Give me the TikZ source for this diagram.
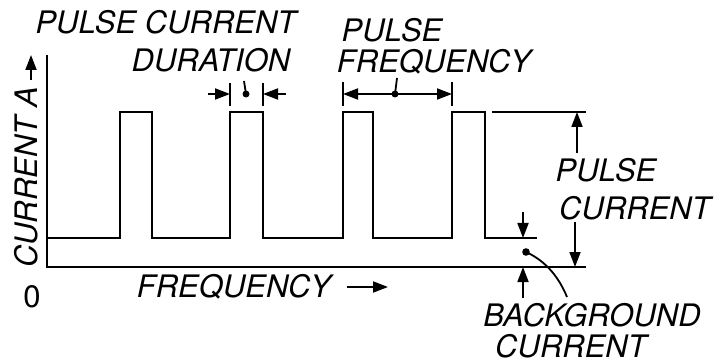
\documentclass[tikz,border=0pt]{standalone}
\usepackage{fontspec}
\setmainfont{TeX Gyre Heros}
\usetikzlibrary{arrows.meta}
\begin{document}
\begin{tikzpicture}[x=1pt,y=-1pt,
  wave/.style={line width=2.6pt, line join=miter},
  fine/.style={line width=1.8pt},
  tipA/.style={-{Triangle[length=15pt,width=11pt]}},
  tipB/.style={{Triangle[length=15pt,width=11pt]}-{Triangle[length=15pt,width=11pt]}},
  lbl/.style={font=\fontsize{31}{33}\selectfont\itshape, inner sep=0pt, text depth=0pt, anchor=base}]
\useasboundingbox (0,0) rectangle (714,363);

% axes
\coordinate (ytop) at (47,55);
\coordinate (origin) at (47,267);
\coordinate (xend) at (586,267);
\draw[wave] (ytop) -- (origin) -- (xend);

% waveform
\coordinate (w0) at (47,238);
\coordinate (w1) at (537,238);
\draw[wave] (w0) -| (120,112) -| (152,238) -| (230,112) -| (263,238) -| (343,112) -| (373,238) -| (452,112) -| (485,238) -- (w1);

% pulse current duration
\coordinate (d1a) at (230,83); \coordinate (d1b) at (230,106);
\coordinate (d2a) at (263,83); \coordinate (d2b) at (263,106);
\draw[fine] (d1a) -- (d1b);
\draw[fine] (d2a) -- (d2b);
\coordinate (dl) at (208,94); \coordinate (dlt) at (230,94);
\coordinate (dr) at (286,94); \coordinate (drt) at (263,94);
\draw[fine,tipA] (dl) -- (dlt);
\draw[fine,tipA] (dr) -- (drt);
\coordinate (ddot) at (246,94); \coordinate (ddotT) at (244,81);
\fill (ddot) circle (3.5);
\draw[fine] (ddot) -- (ddotT);

% pulse frequency
\coordinate (f1a) at (343,82); \coordinate (f1b) at (343,106);
\coordinate (f2a) at (452,82); \coordinate (f2b) at (452,106);
\draw[fine] (f1a) -- (f1b);
\draw[fine] (f2a) -- (f2b);
\coordinate (fl) at (343,94); \coordinate (fr) at (452,94);
\draw[fine,tipB] (fl) -- (fr);
\coordinate (fdot) at (395,94); \coordinate (fdotT) at (397,78);
\fill (fdot) circle (3.5);
\draw[fine] (fdot) -- (fdotT);

% pulse current
\coordinate (pcl) at (492,112); \coordinate (pcr) at (586,112);
\draw[fine] (pcl) -- (pcr);
\coordinate (pua) at (577,153); \coordinate (pub) at (577,112);
\draw[fine,tipA] (pua) -- (pub);
\coordinate (pda) at (575,222); \coordinate (pdb) at (575,267);
\draw[fine,tipA] (pda) -- (pdb);

% background current
\coordinate (bua) at (523,212); \coordinate (bub) at (523,238);
\draw[fine,tipA] (bua) -- (bub);
\coordinate (bda) at (523,298); \coordinate (bdb) at (523,267);
\draw[fine,tipA] (bda) -- (bdb);
\coordinate (bdot) at (526,252); \coordinate (bend) at (567,297);
\fill (bdot) circle (3.8);
\draw[fine] (bdot) .. controls (548,262) and (560,280) .. (bend);

% labels
\node[lbl] (tPC) at (166,34) {PULSE CURRENT};
\node[lbl] (tDUR) at (211,72) {DURATION};
\node[lbl] (tPF1) at (392,42) {PULSE};
\node[lbl] (tPF2) at (434,73) {FREQUENCY};
\node[lbl] (tPCr1) at (606,182) {PULSE};
\node[lbl] (tPCr2) at (635,220) {CURRENT};
\node[lbl] (tBG1) at (592,326) {BACKGROUND};
\node[lbl] (tBG2) at (571,357) {CURRENT};
\node[lbl] (tFREQ) at (234,297) {FREQUENCY};
\coordinate (fqa) at (347,287); \coordinate (fqb) at (388,287);
\draw[fine,tipA] (fqa) -- (fqb);
\node[lbl, rotate=90, anchor=base west] (tCUR) at (37,268) {CURRENT A};
\coordinate (ya) at (31,80); \coordinate (yb) at (31,55);
\draw[fine,tipA] (ya) -- (yb);
\node[font=\fontsize{31}{33}\selectfont, inner sep=0pt, anchor=base] (tZero) at (32,307) {0};
\end{tikzpicture}
\end{document}
